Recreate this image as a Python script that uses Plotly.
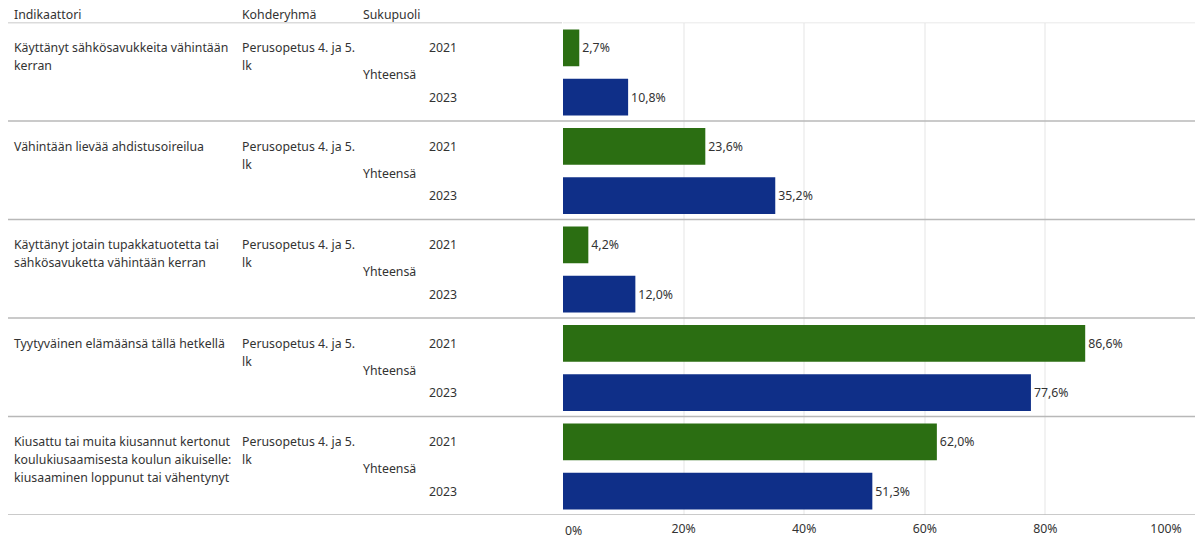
import plotly.graph_objects as go

indicators = [
    ["Käyttänyt sähkösavukkeita vähintään", "kerran"],
    ["Vähintään lievää ahdistusoireilua"],
    ["Käyttänyt jotain tupakkatuotetta tai", "sähkösavuketta vähintään kerran"],
    ["Tyytyväinen elämäänsä tällä hetkellä"],
    ["Kiusattu tai muita kiusannut kertonut", "koulukiusaamisesta koulun aikuiselle:", "kiusaaminen loppunut tai vähentynyt"],
]
target_group = ["Perusopetus 4. ja 5.", "lk"]
sex = "Yhteensä"
years = ["2021", "2023"]
values_2021 = [2.7, 23.6, 4.2, 86.6, 62.0]
values_2023 = [10.8, 35.2, 12.0, 77.6, 51.3]
x_ticks = [0, 20, 40, 60, 80, 100]
headers = ["Indikaattori", "Kohderyhmä", "Sukupuoli"]

W, H = 1195, 539
TOP, BOTTOM = 22.5, 515
X0, X1 = 563, 1166
PANEL = (BOTTOM - TOP) / len(indicators)
LINE = 18 / PANEL  # text line spacing in panel units

GREEN = "#2b6e12"
BLUE = "#0f2f88"
TXT = "#333333"
FONT = "Noto Sans"
FS = 12.3

n = len(indicators)
off = [0.257, 0.757]
pos = [[i + o for i in range(n)] for o in off]

fig = go.Figure()
for vals, p, col, yr in [(values_2021, pos[0], GREEN, years[0]), (values_2023, pos[1], BLUE, years[1])]:
    fig.add_trace(go.Bar(
        x=vals, y=p, orientation="h", width=0.372, name=yr,
        marker=dict(color=col, line=dict(width=0)),
        texttemplate="%{x:.1f}%", textposition="outside",
        textfont=dict(size=FS, color=TXT, family=FONT),
        cliponaxis=False, hoverinfo="skip",
    ))

fig.update_layout(
    width=W, height=H, margin=dict(l=0, r=0, t=0, b=0, autoexpand=False),
    plot_bgcolor="white", paper_bgcolor="white",
    showlegend=False, separators=", ",
    font=dict(family=FONT, size=FS, color=TXT),
    xaxis=dict(domain=[X0 / W, X1 / W], range=[0, 100], tickvals=x_ticks,
               ticktext=["" if t == 0 else f"{t}%" for t in x_ticks], showgrid=True,
               gridcolor="#f2f2f2", gridwidth=2, zeroline=False,
               showline=False, ticks="", ticklabelstandoff=5,
               tickfont=dict(size=FS, color=TXT, family=FONT),
               fixedrange=True, automargin=False),
    yaxis=dict(domain=[1 - BOTTOM / H, 1 - TOP / H], range=[n, 0],
               showgrid=False, showticklabels=False, zeroline=False, ticks="",
               fixedrange=True, automargin=False),
)

def txt(text, x, y, yref="y", xref="paper", xanchor="left"):
    return dict(text=text, x=x, y=y, xref=xref, yref=yref, xanchor=xanchor,
                yanchor="middle", showarrow=False, align="left",
                font=dict(size=FS, color=TXT, family=FONT))

ann = []
for h, x in zip(headers, [12, 240, 361]):
    ann.append(txt(h, x / W, 1 - 14 / H, yref="paper"))
# first tick label kept inside the axis start, as in the original
ann.append(txt(f"{x_ticks[0]}%", x_ticks[0], 1 - 530 / H, yref="paper", xref="x"))
for i in range(n):
    for k, line in enumerate(indicators[i]):
        ann.append(txt(line, 12 / W, pos[0][i] + k * LINE))
    for k, line in enumerate(target_group):
        ann.append(txt(line, 240 / W, pos[0][i] + k * LINE))
    ann.append(txt(sex, 361 / W, i + 0.53))
    for j, yr in enumerate(years):
        ann.append(txt(yr, 427 / W, pos[j][i]))
fig.update_layout(annotations=ann)

shapes = []
shapes.append(dict(type="line", xref="paper", yref="y", x0=8 / W, x1=(X0 - 1) / W, y0=0, y1=0,
                   line=dict(color="#b8b8b8", width=1.6)))
shapes.append(dict(type="line", xref="paper", yref="y", x0=X0 / W, x1=1, y0=0, y1=0,
                   line=dict(color="#e2e2e2", width=1.6)))
for k in range(1, n + 1):
    shapes.append(dict(type="line", xref="paper", yref="y", x0=8 / W, x1=1, y0=k, y1=k,
                       line=dict(color="#b8b8b8", width=1.6)))
fig.update_layout(shapes=shapes)

fig.write_html("out.html", config={"displayModeBar": False},
               post_script="document.body.style.margin='0px';")
